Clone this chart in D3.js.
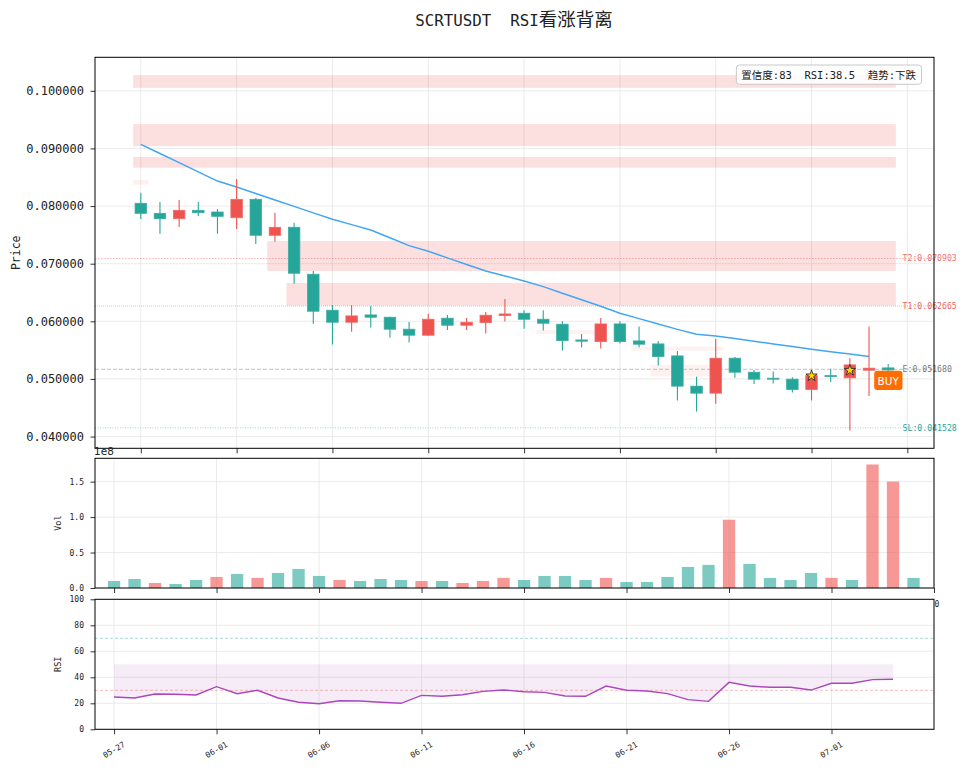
<!DOCTYPE html>
<html>
<head>
<meta charset="utf-8">
<script src="https://cdn.jsdelivr.net/npm/d3@7"></script>
<style>
body{margin:0;background:#fff;}
svg text{fill:#222;}
</style>
</head>
<body>
<svg id="chart" width="967" height="770"></svg>
<script>
// ---- data ----
var symbol = "SCRTUSDT";
var signalName = "RSI看涨背离";
var tickIdx = [0, 5, 10, 15, 20, 25, 30, 35];
var tickLabels = ["05-27", "06-01", "06-06", "06-11", "06-16", "06-21", "06-26", "07-01"];

var opens  = [0.08048,0.07874,0.07781,0.07926,0.07897,0.07798,0.08117,0.07493,0.07632,0.06817,
              0.06192,0.05984,0.06111,0.06071,0.05863,0.05759,0.06054,0.05932,0.05977,0.06099,
              0.06140,0.06036,0.05950,0.05677,0.05648,0.05955,0.05660,0.05608,0.05400,0.04875,
              0.04753,0.05360,0.05117,0.05013,0.04996,0.04816,0.05058,0.05019,0.05152,0.05192];
var highs  = [0.08232,0.08070,0.08105,0.08070,0.07949,0.08469,0.08140,0.07885,0.07711,0.06874,
              0.06284,0.06284,0.06267,0.06081,0.05990,0.06133,0.06111,0.06059,0.06163,0.06388,
              0.06192,0.06192,0.06002,0.05781,0.06059,0.06002,0.05908,0.05660,0.05487,0.05036,
              0.05695,0.05383,0.05157,0.05128,0.05031,0.05080,0.05175,0.05360,0.05908,0.05261];
var lows   = [0.07776,0.07521,0.07637,0.07828,0.07521,0.07602,0.07342,0.07382,0.06654,0.05960,
              0.05596,0.05821,0.05891,0.05717,0.05631,0.05750,0.05851,0.05851,0.05787,0.05995,
              0.05873,0.05839,0.05492,0.05544,0.05527,0.05613,0.05551,0.05232,0.04625,0.04434,
              0.04568,0.05019,0.04914,0.04919,0.04764,0.04625,0.04949,0.04105,0.04706,0.05100];
var closes = [0.07874,0.07781,0.07926,0.07885,0.07822,0.08117,0.07493,0.07632,0.06834,0.06175,
              0.05984,0.06094,0.06071,0.05863,0.05759,0.06036,0.05932,0.05984,0.06106,0.06128,
              0.06036,0.05967,0.05665,0.05655,0.05955,0.05648,0.05603,0.05388,0.04875,0.04753,
              0.05360,0.05117,0.04996,0.04996,0.04816,0.05058,0.05041,0.05244,0.05187,0.05157];
var volumes = [9.9e6,12.7e6,7.1e6,5.7e6,11.3e6,15.6e6,19.8e6,14.2e6,21.2e6,26.9e6,
               17.0e6,11.3e6,9.9e6,12.7e6,11.3e6,9.9e6,9.9e6,7.1e6,9.9e6,14.2e6,
               11.3e6,17.0e6,17.0e6,11.3e6,14.2e6,8.5e6,8.5e6,15.6e6,29.7e6,32.6e6,
               96.3e6,34.0e6,14.2e6,11.3e6,21.2e6,14.2e6,11.3e6,174.2e6,150.1e6,14.2e6];
var ema = [0.09071,0.08912,0.08753,0.08594,0.08434,0.08330,0.08218,0.08106,0.07994,0.07882,
           0.07770,0.07678,0.07585,0.07449,0.07313,0.07215,0.07101,0.06987,0.06873,0.06787,
           0.06700,0.06602,0.06488,0.06375,0.06261,0.06140,0.06047,0.05954,0.05860,0.05776,
           0.05746,0.05700,0.05654,0.05608,0.05562,0.05516,0.05473,0.05431,0.05388];
var rsi = [24.8,24.1,27.2,27.0,26.4,32.8,27.4,30.0,24.1,20.8,
           19.7,22.0,21.8,20.8,20.0,26.1,25.4,26.6,29.2,30.2,
           28.9,28.4,25.6,25.4,33.3,30.0,29.5,27.4,22.8,21.5,
           36.1,33.3,32.3,32.3,30.2,35.4,35.4,38.2,38.5];

// supply / demand zones
var bandLow   = [0.10052,0.09041,0.08665,0.08371,0.06874,0.06272,0.05781,0.05492,0.05041];
var bandHigh  = [0.10273,0.09423,0.08851,0.08452,0.07394,0.06666,0.05851,0.05561,0.05244];
var bandStart = [0, 0, 0, 0, 7, 8, 21, 26, 27];
var bandEnd   = [39, 39, 39, 0, 39, 39, 23.5, 30, 30];
var bandKind  = ["zone","zone","zone","weak","zone","zone","weak","weak","weak"];

var levelNames  = ["T2", "T1", "E", "SL"];
var levelValues = [0.070903, 0.062665, 0.051680, 0.041528];

var signalIdx   = [35, 37];
var signalPrice = [0.05054, 0.05150];
var buyIdx = 39, buyPrice = 0.04975;
var confidence = 83, trend = "下跌";

// ---- setup ----
var svg = d3.select("#chart");
var MONO = "'DejaVu Sans Mono','Noto Sans CJK SC',monospace";
var CJK = "'Noto Sans CJK SC','DejaVu Sans',sans-serif";
var UP = "#ef5350", DOWN = "#26a69a", GRID = "#e6e6e6";

var P = {left: 95, right: 934, top: 57.3, bottom: 448.3};
var V = {left: 95, right: 934, top: 458.3, bottom: 588};
var R = {left: 95, right: 934, top: 599.3, bottom: 729.3};

var bx0 = d3.min(bandStart) - 0.4, bx1 = d3.max(bandEnd) + 0.4;
var xpad = (bx1 - bx0) * 0.05;
var xP = d3.scaleLinear().domain([bx0 - xpad, bx1 + xpad]).range([P.left, P.right]);
var lo = d3.min(lows), hi = d3.max(bandHigh), ypad = (hi - lo) * 0.05;
var yP = d3.scaleLinear().domain([lo - ypad, hi + ypad]).range([P.bottom, P.top]);

var xV = d3.scaleLinear().domain([-0.93, 40]).range([V.left, V.right]);
var yV = d3.scaleLinear().domain([0, d3.max(volumes) * 1.05]).range([V.bottom, V.top]);
var yR = d3.scaleLinear().domain([0, 100]).range([R.bottom, R.top]);

var xTicks = [0, 5, 10, 15, 20, 25, 30, 35, 40];

var defs = svg.append("defs");
[["clipP", P], ["clipV", V], ["clipR", R]].forEach(function(c){
  defs.append("clipPath").attr("id", c[0]).append("rect")
    .attr("x", c[1].left).attr("y", c[1].top)
    .attr("width", c[1].right - c[1].left).attr("height", c[1].bottom - c[1].top);
});

function drawGrid(g, panel, xs, xScale, ys, yScale){
  g.selectAll(".gx").data(xs).enter().append("line")
    .attr("x1", xScale).attr("x2", xScale)
    .attr("y1", panel.top).attr("y2", panel.bottom)
    .attr("stroke", GRID).attr("stroke-width", 0.8);
  g.selectAll(".gy").data(ys).enter().append("line")
    .attr("x1", panel.left).attr("x2", panel.right)
    .attr("y1", yScale).attr("y2", yScale)
    .attr("stroke", GRID).attr("stroke-width", 0.8);
}

function drawYAxis(scale, panel, ticks, fmt, size){
  var g = svg.append("g").attr("transform", "translate(" + panel.left + ",0)")
    .call(d3.axisLeft(scale).tickValues(ticks).tickSize(4.5).tickPadding(6.5).tickFormat(fmt));
  g.select(".domain").remove();
  g.selectAll("line").attr("stroke", "#000").attr("stroke-width", 0.8);
  g.selectAll("text").attr("font-family", MONO).attr("font-size", size).attr("fill", "#222");
  return g;
}

function drawXAxis(scale, panel, ticks, withLabels){
  var g = svg.append("g").attr("transform", "translate(0," + panel.bottom + ")")
    .call(d3.axisBottom(scale).tickValues(ticks).tickSize(5).tickFormat(""));
  g.select(".domain").remove();
  g.selectAll("line").attr("stroke", "#000").attr("stroke-width", 0.8);
  if(withLabels){
    g.selectAll("text").remove();
    g.selectAll(".lbl").data(ticks).enter().append("text")
      .attr("transform", function(d){ return "translate(" + scale(d) + ",20.7) rotate(-30)"; })
      .attr("text-anchor", "middle")
      .attr("dominant-baseline", "central")
      .attr("font-family", MONO).attr("font-size", 8)
      .text(function(d, i){ return tickLabels[i]; });
  }
}

// ---- price panel ----
var pg = svg.append("g");
var yPriceTicks = yP.ticks(7);
drawGrid(pg, P, xTicks, xP, yPriceTicks, yP);

var pc = pg.append("g").attr("clip-path", "url(#clipP)");

pc.selectAll(".band").data(bandLow).enter().append("rect")
  .attr("class", "band")
  .attr("x", function(d, i){ return xP(bandStart[i] - 0.4); })
  .attr("width", function(d, i){ return xP(bandEnd[i] + 0.4) - xP(bandStart[i] - 0.4); })
  .attr("y", function(d, i){ return yP(bandHigh[i]); })
  .attr("height", function(d, i){ return yP(d) - yP(bandHigh[i]); })
  .attr("fill", UP)
  .attr("fill-opacity", function(d, i){ return bandKind[i] === "zone" ? 0.18 : 0.08; });

var levelStroke = {T2: UP, T1: UP, E: "#9e9e9e", SL: DOWN};
var levelDash = {T2: "1.5,1.5", T1: "1,1", E: "4,2", SL: "1,1.5"};
var levelText = {T2: "#f07070", T1: "#f06060", E: "#777", SL: "#26a69a"};

pc.selectAll(".level").data(levelValues).enter().append("line")
  .attr("x1", P.left).attr("x2", P.right)
  .attr("y1", yP).attr("y2", yP)
  .attr("stroke", function(d, i){ return levelStroke[levelNames[i]]; })
  .attr("stroke-opacity", function(d, i){ return levelNames[i] === "E" ? 0.8 : 0.55; })
  .attr("stroke-width", 0.8)
  .attr("stroke-dasharray", function(d, i){ return levelDash[levelNames[i]]; });

pc.append("path")
  .datum(ema)
  .attr("d", d3.line().x(function(d, i){ return xP(i); }).y(function(d){ return yP(d); }))
  .attr("fill", "none").attr("stroke", "#42a5f5").attr("stroke-width", 1.5);

var candles = opens.map(function(o, i){
  return {i: i, o: o, h: highs[i], l: lows[i], c: closes[i]};
});
var cg = pc.selectAll(".candle").data(candles).enter().append("g").attr("class", "candle");
cg.append("line")
  .attr("x1", function(d){ return xP(d.i); }).attr("x2", function(d){ return xP(d.i); })
  .attr("y1", function(d){ return yP(d.h); }).attr("y2", function(d){ return yP(d.l); })
  .attr("stroke", function(d){ return d.c >= d.o ? UP : DOWN; })
  .attr("stroke-width", 1.1);
cg.append("rect")
  .attr("x", function(d){ return xP(d.i - 0.3); })
  .attr("width", function(d){ return xP(d.i + 0.3) - xP(d.i - 0.3); })
  .attr("y", function(d){ return yP(Math.max(d.o, d.c)); })
  .attr("height", function(d){ return Math.max(1, Math.abs(yP(d.o) - yP(d.c))); })
  .attr("fill", function(d){ return d.c >= d.o ? UP : DOWN; })
  .attr("stroke", function(d){ return d.c >= d.o ? "#f06a67" : "#3aada1"; })
  .attr("stroke-width", 0.8);

pc.selectAll(".star").data(signalIdx).enter().append("path")
  .attr("d", d3.symbol().type(d3.symbolStar).size(40))
  .attr("transform", function(d, i){ return "translate(" + xP(d) + "," + yP(signalPrice[i]) + ")"; })
  .attr("fill", "#ffd700").attr("stroke", "#222").attr("stroke-width", 0.8);

// BUY tag
var buyG = pg.append("g").attr("transform", "translate(" + xP(buyIdx) + "," + yP(buyPrice) + ")");
buyG.append("rect").attr("x", -14).attr("y", -9.7).attr("width", 28.3).attr("height", 19.3)
  .attr("rx", 3).attr("fill", "#ff6d00");
buyG.append("text").attr("text-anchor", "middle").attr("dominant-baseline", "central")
  .attr("y", 0.5)
  .attr("font-family", "'DejaVu Sans',sans-serif").attr("font-size", 10.5)
  .style("fill", "#fff").text("BUY");

// level labels on the right
pg.selectAll(".levelLbl").data(levelValues).enter().append("text")
  .attr("x", xP(39.75)).attr("y", yP)
  .attr("dominant-baseline", "central")
  .attr("font-family", MONO).attr("font-size", 8.2)
  .style("fill", function(d, i){ return levelText[levelNames[i]]; })
  .text(function(d, i){ return levelNames[i] + ":" + d.toFixed(6); });

// info box
var infoStr = "置信度:" + confidence + "  RSI:" + rsi[rsi.length - 1].toFixed(1) + "  趋势:" + trend;
var infoG = pg.append("g");
var infoRect = infoG.append("rect");
var infoText = infoG.append("text")
  .attr("x", 916).attr("y", 74.7)
  .attr("text-anchor", "end").attr("dominant-baseline", "central")
  .attr("font-family", MONO).attr("font-size", 10.5)
  .style("white-space", "pre")
  .text(infoStr);
var bb = infoText.node().getBBox();
infoRect.attr("x", bb.x - 5).attr("y", 65).attr("width", bb.width + 10).attr("height", 19.3)
  .attr("rx", 3).attr("fill", "#fff").attr("fill-opacity", 0.85)
  .attr("stroke", "#c8c8c8").attr("stroke-width", 1);

pg.append("rect").attr("x", P.left).attr("y", P.top)
  .attr("width", P.right - P.left).attr("height", P.bottom - P.top)
  .attr("fill", "none").attr("stroke", "#000").attr("stroke-width", 1);
drawYAxis(yP, P, yPriceTicks, d3.format(".6f"), 12);
drawXAxis(xP, P, xTicks, false);

// ---- volume panel ----
var vg = svg.append("g");
var yVolTicks = yV.ticks(4);
drawGrid(vg, V, xTicks, xV, yVolTicks, yV);
vg.append("g").attr("clip-path", "url(#clipV)")
  .selectAll(".vol").data(volumes).enter().append("rect")
  .attr("x", function(d, i){ return xV(i - 0.3); })
  .attr("width", function(d, i){ return xV(i + 0.3) - xV(i - 0.3); })
  .attr("y", function(d){ return yV(d); })
  .attr("height", function(d){ return yV(0) - yV(d); })
  .attr("fill", function(d, i){ return closes[i] >= opens[i] ? UP : DOWN; })
  .attr("fill-opacity", 0.6);
vg.append("rect").attr("x", V.left).attr("y", V.top)
  .attr("width", V.right - V.left).attr("height", V.bottom - V.top)
  .attr("fill", "none").attr("stroke", "#000").attr("stroke-width", 1);
drawYAxis(yV, V, yVolTicks, function(d){ return d3.format(".1f")(d / 1e8); }, 8);
drawXAxis(xV, V, xTicks, false);
svg.append("text").attr("x", V.left - 1).attr("y", 454.5)
  .attr("font-family", "'DejaVu Sans',sans-serif").attr("font-size", 10.5).text("1e8");

// ---- rsi panel ----
var rg = svg.append("g");
var yRsiTicks = yR.ticks(5);
drawGrid(rg, R, tickIdx, xV, yRsiTicks, yR);
var rc = rg.append("g").attr("clip-path", "url(#clipR)");
rc.append("path").datum(rsi)
  .attr("d", d3.area().x(function(d, i){ return xV(i); }).y0(yR(50)).y1(function(d){ return yR(d); }))
  .attr("fill", "#ab47bc").attr("fill-opacity", 0.1);
rc.append("line").attr("x1", R.left).attr("x2", R.right).attr("y1", yR(70)).attr("y2", yR(70))
  .attr("stroke", DOWN).attr("stroke-opacity", 0.5).attr("stroke-width", 0.8).attr("stroke-dasharray", "3,2");
rc.append("line").attr("x1", R.left).attr("x2", R.right).attr("y1", yR(30)).attr("y2", yR(30))
  .attr("stroke", UP).attr("stroke-opacity", 0.5).attr("stroke-width", 0.8).attr("stroke-dasharray", "3,2");
rc.append("path").datum(rsi)
  .attr("d", d3.line().x(function(d, i){ return xV(i); }).y(function(d){ return yR(d); }))
  .attr("fill", "none").attr("stroke", "#ab47bc").attr("stroke-width", 1.4);
rg.append("rect").attr("x", R.left).attr("y", R.top)
  .attr("width", R.right - R.left).attr("height", R.bottom - R.top)
  .attr("fill", "none").attr("stroke", "#000").attr("stroke-width", 1);
drawYAxis(yR, R, yRsiTicks, d3.format("d"), 8);
drawXAxis(xV, R, tickIdx, true);

// stray tick label fragment peeking out at the right edge
svg.append("text").attr("x", 934.5).attr("y", 606.5)
  .attr("font-family", MONO).attr("font-size", 8).text("0");

// ---- labels and title ----
svg.append("text").attr("transform", "translate(20," + (P.top + P.bottom) / 2 + ") rotate(-90)")
  .attr("text-anchor", "middle").attr("font-family", MONO).attr("font-size", 11.5).text("Price");
svg.append("text").attr("transform", "translate(61," + (V.top + V.bottom) / 2 + ") rotate(-90)")
  .attr("text-anchor", "middle").attr("font-family", MONO).attr("font-size", 8.5).text("Vol");
svg.append("text").attr("transform", "translate(61," + (R.top + R.bottom) / 2 + ") rotate(-90)")
  .attr("text-anchor", "middle").attr("font-family", MONO).attr("font-size", 8.5).text("RSI");

var title = svg.append("text").attr("x", 514).attr("y", 26)
  .attr("text-anchor", "middle").style("white-space", "pre");
title.append("tspan").attr("font-family", MONO).attr("font-size", 15.8).text(symbol + "  RSI");
title.append("tspan").attr("font-family", CJK).attr("font-size", 18.5).text(signalName.slice(3));
</script>
</body>
</html>
